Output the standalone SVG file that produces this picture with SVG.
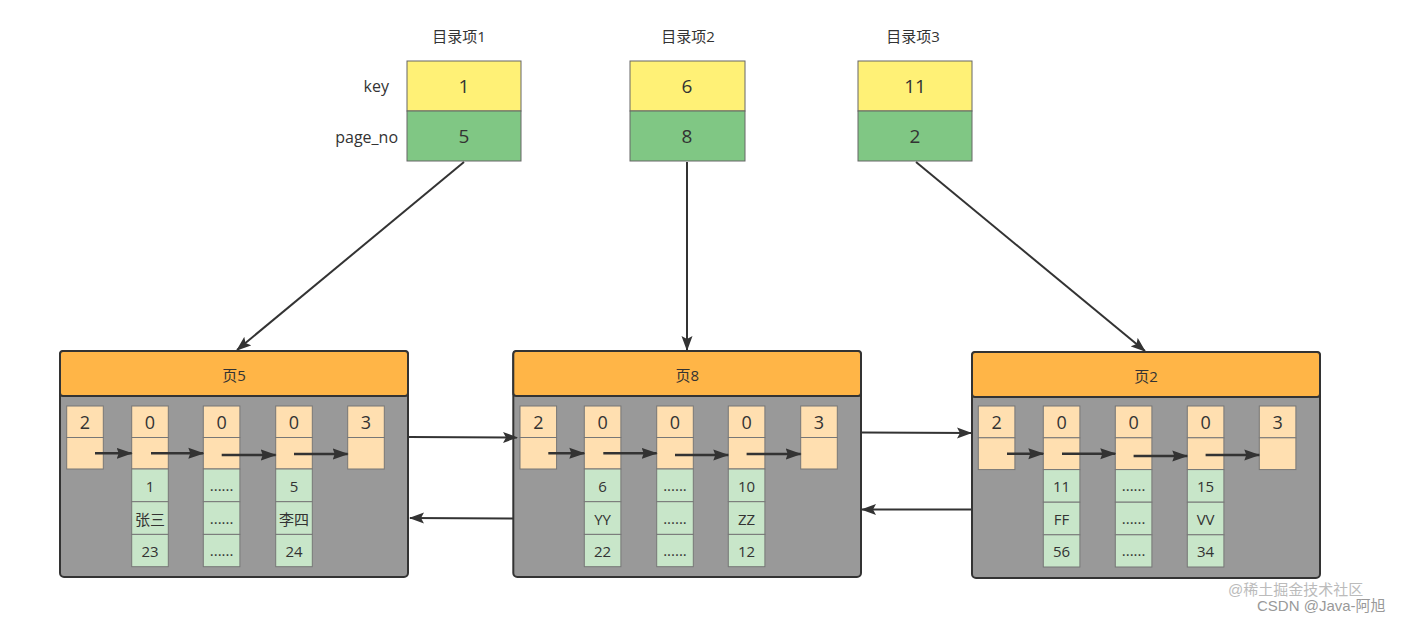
<svg xmlns="http://www.w3.org/2000/svg" width="1405" height="618" viewBox="0 0 1405 618">
<defs>
<marker id="ah" markerWidth="16" markerHeight="12" refX="14" refY="6" orient="auto" markerUnits="userSpaceOnUse">
<path d="M0,0.5 L15,6 L0,11.5 L3,6 Z" fill="#333"/>
</marker>
<marker id="ahs" markerWidth="16" markerHeight="12" refX="15" refY="6" orient="auto" markerUnits="userSpaceOnUse">
<path d="M0,0.5 L16,6 L0,11.5 L2,6 Z" fill="#333"/>
</marker>
</defs>
<style>
text{font-family:"Open Sans","Noto Sans CJK SC",sans-serif;fill:#333;text-anchor:middle;dominant-baseline:central}
.lbl{font-size:15px}
.side{font-size:16px;text-anchor:end}
.big{font-size:19px}
.cell{font-size:18px}
.sm{font-size:15px}
.key{fill:#FFF176;stroke:#666;stroke-width:1}
.pno{fill:#80C784;stroke:#666;stroke-width:1}
.page{fill:#999;stroke:#333;stroke-width:2}
.hdr{fill:#FFB547;stroke:#333;stroke-width:2}
.pc{fill:#FFDFB0;stroke:#777;stroke-width:1}
.gc{fill:#C8E6C9;stroke:#777;stroke-width:1}
.ln{stroke:#333;stroke-width:2;fill:none}
.il{stroke:#333;stroke-width:2.5;fill:none}
.wm{font-size:15px;fill:#bbb;text-anchor:start;font-family:"Liberation Sans","Noto Sans CJK SC",sans-serif}
</style>
<rect width="1405" height="618" fill="#fff"/>

<g id="dir1">
<text class="lbl" x="459" y="36">目录项1</text>
<rect class="key" x="407" y="61" width="114" height="50"/>
<rect class="pno" x="407" y="111" width="114" height="50"/>
<text class="big" x="464" y="86">1</text>
<text class="big" x="464" y="136">5</text>
<text class="side" x="389" y="86">key</text>
<text class="side" x="398" y="137">page_no</text>
</g>
<g id="dir2">
<text class="lbl" x="688" y="36">目录项2</text>
<rect class="key" x="630" y="61" width="115" height="50"/>
<rect class="pno" x="630" y="111" width="115" height="50"/>
<text class="big" x="687" y="86">6</text>
<text class="big" x="687" y="136">8</text>
</g>
<g id="dir3">
<text class="lbl" x="913" y="36">目录项3</text>
<rect class="key" x="858" y="61" width="114" height="50"/>
<rect class="pno" x="858" y="111" width="114" height="50"/>
<text class="big" x="915" y="86">11</text>
<text class="big" x="915" y="136">2</text>
</g>

<g id="page5" transform="translate(60,351)">
<rect class="page" x="0" y="0" width="348" height="226" rx="4"/>
<rect class="hdr" x="0" y="0" width="348" height="45" rx="3"/>
<text class="sm" x="174" y="24">页5</text>
<rect class="pc" x="6.7" y="55" width="36.6" height="31.5"/><rect class="pc" x="6.7" y="86.5" width="36.6" height="31.5"/>
<rect class="pc" x="71.7" y="55" width="36.6" height="31.5"/><rect class="pc" x="71.7" y="86.5" width="36.6" height="31.5"/>
<rect class="pc" x="143.3" y="55" width="36.6" height="31.5"/><rect class="pc" x="143.3" y="86.5" width="36.6" height="31.5"/>
<rect class="pc" x="215.7" y="55" width="36.6" height="31.5"/><rect class="pc" x="215.7" y="86.5" width="36.6" height="31.5"/>
<rect class="pc" x="287.7" y="55" width="36.6" height="31.5"/><rect class="pc" x="287.7" y="86.5" width="36.6" height="31.5"/>
<text class="cell" x="25" y="71">2</text><text class="cell" x="90" y="71">0</text><text class="cell" x="161.6" y="71">0</text><text class="cell" x="234" y="71">0</text><text class="cell" x="306" y="71">3</text>
<rect class="gc" x="71.7" y="118" width="36.6" height="32.7"/><rect class="gc" x="71.7" y="150.7" width="36.6" height="32.7"/><rect class="gc" x="71.7" y="183.4" width="36.6" height="32.3"/>
<rect class="gc" x="143.3" y="118" width="36.6" height="32.7"/><rect class="gc" x="143.3" y="150.7" width="36.6" height="32.7"/><rect class="gc" x="143.3" y="183.4" width="36.6" height="32.3"/>
<rect class="gc" x="215.7" y="118" width="36.6" height="32.7"/><rect class="gc" x="215.7" y="150.7" width="36.6" height="32.7"/><rect class="gc" x="215.7" y="183.4" width="36.6" height="32.3"/>
<text class="sm" x="90" y="135">1</text><text class="sm" x="90" y="168">张三</text><text class="sm" x="90" y="200">23</text>
<text class="sm" x="161.6" y="134">......</text><text class="sm" x="161.6" y="167">......</text><text class="sm" x="161.6" y="199">......</text>
<text class="sm" x="234" y="135">5</text><text class="sm" x="234" y="168">李四</text><text class="sm" x="234" y="200">24</text>
<line class="il" x1="35" y1="102.3" x2="71.7" y2="102.3" marker-end="url(#ahs)"/>
<line class="il" x1="91" y1="102.3" x2="143.3" y2="102.3" marker-end="url(#ahs)"/>
<line class="il" x1="161.7" y1="104" x2="215.7" y2="104" marker-end="url(#ahs)"/>
<line class="il" x1="234" y1="103" x2="287.7" y2="103" marker-end="url(#ahs)"/>
</g>

<g id="page8" transform="translate(513.3,351)">
<rect class="page" x="0" y="0" width="347.7" height="226" rx="4"/>
<rect class="hdr" x="0" y="0" width="347.7" height="45" rx="3"/>
<text class="sm" x="174" y="24">页8</text>
<rect class="pc" x="6.7" y="55" width="36.6" height="31.5"/><rect class="pc" x="6.7" y="86.5" width="36.6" height="31.5"/>
<rect class="pc" x="71" y="55" width="36.6" height="31.5"/><rect class="pc" x="71" y="86.5" width="36.6" height="31.5"/>
<rect class="pc" x="143.4" y="55" width="36.6" height="31.5"/><rect class="pc" x="143.4" y="86.5" width="36.6" height="31.5"/>
<rect class="pc" x="215" y="55" width="36.6" height="31.5"/><rect class="pc" x="215" y="86.5" width="36.6" height="31.5"/>
<rect class="pc" x="287.4" y="55" width="36.6" height="31.5"/><rect class="pc" x="287.4" y="86.5" width="36.6" height="31.5"/>
<text class="cell" x="25" y="71">2</text><text class="cell" x="89.3" y="71">0</text><text class="cell" x="161.7" y="71">0</text><text class="cell" x="233.3" y="71">0</text><text class="cell" x="305.7" y="71">3</text>
<rect class="gc" x="71" y="118" width="36.6" height="32.7"/><rect class="gc" x="71" y="150.7" width="36.6" height="32.7"/><rect class="gc" x="71" y="183.4" width="36.6" height="32.3"/>
<rect class="gc" x="143.4" y="118" width="36.6" height="32.7"/><rect class="gc" x="143.4" y="150.7" width="36.6" height="32.7"/><rect class="gc" x="143.4" y="183.4" width="36.6" height="32.3"/>
<rect class="gc" x="215" y="118" width="36.6" height="32.7"/><rect class="gc" x="215" y="150.7" width="36.6" height="32.7"/><rect class="gc" x="215" y="183.4" width="36.6" height="32.3"/>
<text class="sm" x="89.3" y="135">6</text><text class="sm" x="89.3" y="168">YY</text><text class="sm" x="89.3" y="200">22</text>
<text class="sm" x="161.7" y="134">......</text><text class="sm" x="161.7" y="167">......</text><text class="sm" x="161.7" y="199">......</text>
<text class="sm" x="233.3" y="135">10</text><text class="sm" x="233.3" y="168">ZZ</text><text class="sm" x="233.3" y="200">12</text>
<line class="il" x1="35" y1="102.3" x2="71" y2="102.3" marker-end="url(#ahs)"/>
<line class="il" x1="90" y1="102.3" x2="143.4" y2="102.3" marker-end="url(#ahs)"/>
<line class="il" x1="161.7" y1="104" x2="215" y2="104" marker-end="url(#ahs)"/>
<line class="il" x1="233.3" y1="103" x2="287.4" y2="103" marker-end="url(#ahs)"/>
</g>

<g id="page2" transform="translate(972,352)">
<rect class="page" x="0" y="0" width="348" height="226" rx="4"/>
<rect class="hdr" x="0" y="0" width="348" height="45" rx="3"/>
<text class="sm" x="174" y="24">页2</text>
<rect class="pc" x="6.3" y="54" width="36.6" height="31.8"/><rect class="pc" x="6.3" y="85.8" width="36.6" height="31.8"/>
<rect class="pc" x="71.3" y="54" width="36.6" height="31.8"/><rect class="pc" x="71.3" y="85.8" width="36.6" height="31.8"/>
<rect class="pc" x="143.3" y="54" width="36.6" height="31.8"/><rect class="pc" x="143.3" y="85.8" width="36.6" height="31.8"/>
<rect class="pc" x="215.3" y="54" width="36.6" height="31.8"/><rect class="pc" x="215.3" y="85.8" width="36.6" height="31.8"/>
<rect class="pc" x="287.3" y="54" width="36.6" height="31.8"/><rect class="pc" x="287.3" y="85.8" width="36.6" height="31.8"/>
<text class="cell" x="24.6" y="70">2</text><text class="cell" x="89.6" y="70">0</text><text class="cell" x="161.6" y="70">0</text><text class="cell" x="233.6" y="70">0</text><text class="cell" x="305.6" y="70">3</text>
<rect class="gc" x="71.3" y="117.6" width="36.6" height="32.6"/><rect class="gc" x="71.3" y="150.2" width="36.6" height="32.6"/><rect class="gc" x="71.3" y="182.8" width="36.6" height="32.2"/>
<rect class="gc" x="143.3" y="117.6" width="36.6" height="32.6"/><rect class="gc" x="143.3" y="150.2" width="36.6" height="32.6"/><rect class="gc" x="143.3" y="182.8" width="36.6" height="32.2"/>
<rect class="gc" x="215.3" y="117.6" width="36.6" height="32.6"/><rect class="gc" x="215.3" y="150.2" width="36.6" height="32.6"/><rect class="gc" x="215.3" y="182.8" width="36.6" height="32.2"/>
<text class="sm" x="89.6" y="134">11</text><text class="sm" x="89.6" y="167">FF</text><text class="sm" x="89.6" y="199">56</text>
<text class="sm" x="161.6" y="133">......</text><text class="sm" x="161.6" y="166">......</text><text class="sm" x="161.6" y="198">......</text>
<text class="sm" x="233.6" y="134">15</text><text class="sm" x="233.6" y="167">VV</text><text class="sm" x="233.6" y="199">34</text>
<line class="il" x1="35" y1="101.7" x2="71.3" y2="101.7" marker-end="url(#ahs)"/>
<line class="il" x1="90" y1="101.7" x2="143.3" y2="101.7" marker-end="url(#ahs)"/>
<line class="il" x1="161.6" y1="104" x2="215.3" y2="104" marker-end="url(#ahs)"/>
<line class="il" x1="233.6" y1="103" x2="287.3" y2="103" marker-end="url(#ahs)"/>
</g>

<g id="connectors">
<line class="ln" x1="464" y1="162" x2="237" y2="350" marker-end="url(#ah)"/>
<line class="ln" x1="687" y1="162" x2="687" y2="350" marker-end="url(#ah)"/>
<line class="ln" x1="916" y1="162" x2="1145" y2="351" marker-end="url(#ah)"/>
<line class="ln" x1="409" y1="437" x2="517" y2="437.5" marker-end="url(#ah)"/>
<line class="ln" x1="513" y1="518.5" x2="410" y2="518" marker-end="url(#ah)"/>
<line class="ln" x1="862" y1="432.5" x2="971" y2="433" marker-end="url(#ah)"/>
<line class="ln" x1="971" y1="509.5" x2="862" y2="509.5" marker-end="url(#ah)"/>
</g>

<g id="watermark">
<text class="wm" x="1228" y="589">@稀土掘金技术社区</text>
<text class="wm" x="1257" y="605" style="fill:#999">CSDN @Java-阿旭</text>
</g>
</svg>
